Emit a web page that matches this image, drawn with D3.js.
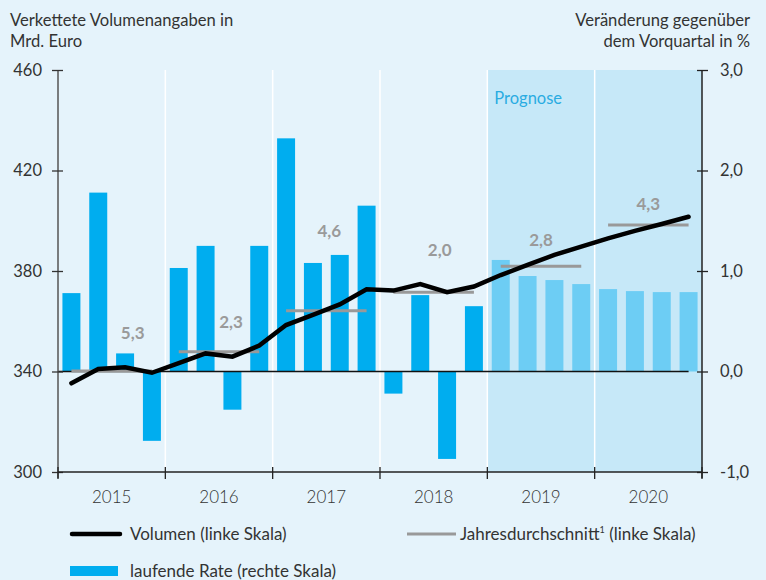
<!DOCTYPE html>
<html>
<head>
<meta charset="utf-8">
<script src="https://cdn.jsdelivr.net/npm/d3@7"></script>
<style>
    body { margin: 0; background: #e5f3fb; }
    text { font-family: Lato, "Open Sans", sans-serif; }
</style>
</head>
<body>
<div id="chart"></div>
<script>
// Chart data
const years = ["2015", "2016", "2017", "2018", "2019", "2020"];
const forecastYears = ["2019", "2020"];
const quarters = years.flatMap(y => ["Q1", "Q2", "Q3", "Q4"].map(q => y + q));

// laufende Rate, % gegenüber Vorquartal (right scale)
const rate = [
    0.78, 1.78, 0.18, -0.69,
    1.03, 1.25, -0.38, 1.25,
    2.32, 1.08, 1.16, 1.65,
    -0.22, 0.76, -0.87, 0.65,
    1.11, 0.95, 0.91, 0.87,
    0.82, 0.80, 0.79, 0.79
];

// Volumen, Mrd. Euro (left scale)
const volume = [
    335.3, 341.0, 341.7, 339.5,
    343.3, 347.2, 345.9, 350.3,
    358.5, 362.5, 366.7, 372.7,
    372.2, 374.8, 371.6, 373.8,
    378.4, 382.4, 386.4, 389.7,
    393.0, 396.0, 398.7, 401.6
];

// Jahresdurchschnitt (left scale) and its growth label
const annualAvg = [340.2, 347.9, 364.2, 371.5, 381.9, 398.3];
const annualGrowth = ["5,3", "2,3", "4,6", "2,0", "2,8", "4,3"];

const leftTicks = [300, 340, 380, 420, 460];
const rightTicks = [-1, 0, 1, 2, 3];

(function () {
    const width = 766, height = 580;
    const plot = { left: 58, right: 702, top: 70, bottom: 472 };

    const svg = d3.select("#chart").append("svg")
        .attr("width", width)
        .attr("height", height);

    svg.append("rect").attr("width", width).attr("height", height).attr("fill", "#e5f3fb");

    // Scales
    const xYear = d3.scaleBand().domain(years).range([plot.left, plot.right]);
    const xQ = d3.scaleBand().domain(quarters).range([plot.left, plot.right])
        .paddingInner(0.33).paddingOuter(0.165);
    const yL = d3.scaleLinear().domain([300, 460]).range([plot.bottom, plot.top]);
    const yR = d3.scaleLinear().domain([-1, 3]).range([plot.bottom, plot.top]);
    const cx = i => xQ(quarters[i]) + xQ.bandwidth() / 2;

    // Forecast shading
    const fx0 = xYear(forecastYears[0]);
    svg.append("rect")
        .attr("x", fx0).attr("y", plot.top)
        .attr("width", plot.right - fx0).attr("height", plot.bottom - plot.top)
        .attr("fill", "#c6e8f8");
    svg.append("text")
        .attr("x", fx0 + 7).attr("y", plot.top + 34)
        .attr("fill", "#2aace2").attr("font-size", 16.5)
        .text("Prognose");

    // Year separators
    svg.selectAll(".sep")
        .data(years.slice(1))
        .enter().append("line")
        .attr("x1", d => xYear(d)).attr("x2", d => xYear(d))
        .attr("y1", plot.top).attr("y2", plot.bottom)
        .attr("stroke", "#fff").attr("stroke-width", 1.5);

    // Bars
    svg.selectAll(".bar")
        .data(rate)
        .enter().append("rect")
        .attr("x", (d, i) => xQ(quarters[i]))
        .attr("y", d => yR(Math.max(0, d)))
        .attr("width", xQ.bandwidth())
        .attr("height", d => Math.abs(yR(d) - yR(0)))
        .attr("fill", (d, i) => forecastYears.includes(quarters[i].slice(0, 4)) ? "#6dcdf4" : "#00adef");

    // Zero line
    svg.append("line")
        .attr("x1", plot.left).attr("x2", cx(23))
        .attr("y1", yR(0)).attr("y2", yR(0))
        .attr("stroke", "#111").attr("stroke-width", 1.3);

    // Annual averages
    svg.selectAll(".avg")
        .data(annualAvg)
        .enter().append("line")
        .attr("x1", (d, i) => cx(i * 4)).attr("x2", (d, i) => cx(i * 4 + 3))
        .attr("y1", d => yL(d)).attr("y2", d => yL(d))
        .attr("stroke", "#999").attr("stroke-width", 3);

    // Growth labels (hand placed relative to year centre / avg line)
    const labelShift = [[21, -38], [12, -30], [3, -80], [6, -42], [0, -26], [0, -21]];
    svg.selectAll(".growth")
        .data(annualGrowth)
        .enter().append("text")
        .attr("x", (d, i) => xYear(years[i]) + xYear.bandwidth() / 2 + labelShift[i][0])
        .attr("y", (d, i) => yL(annualAvg[i]) + labelShift[i][1])
        .attr("dy", "0.35em")
        .attr("text-anchor", "middle")
        .attr("font-size", 17).attr("font-weight", "bold")
        .attr("fill", "#9a9a9a")
        .text(d => d);

    // Volume line
    const line = d3.line().x((d, i) => cx(i)).y(d => yL(d));
    svg.append("path")
        .datum(volume)
        .attr("d", line)
        .attr("fill", "none")
        .attr("stroke", "#000").attr("stroke-width", 4.5)
        .attr("stroke-linejoin", "miter").attr("stroke-linecap", "round");

    // Left axis
    const gL = svg.append("g")
        .attr("transform", `translate(${plot.left},0)`)
        .call(d3.axisLeft(yL).tickValues(leftTicks).tickSize(6).tickSizeOuter(0).tickPadding(10));
    gL.select(".domain").attr("stroke", "#555").attr("stroke-width", 1.5)
        .attr("d", `M0,${plot.top}V${plot.bottom + 6}`);
    gL.selectAll(".tick line").attr("x1", 5).attr("stroke", "#333").attr("stroke-width", 1.3);
    gL.selectAll(".tick text").attr("font-size", 16.5).attr("fill", "#333")
        .attr("font-family", "Lato, sans-serif");

    // Right axis
    const gR = svg.append("g")
        .attr("transform", `translate(${plot.right},0)`)
        .call(d3.axisRight(yR).tickValues(rightTicks).tickSize(6).tickSizeOuter(0).tickPadding(12)
            .tickFormat(d => d.toFixed(1).replace(".", ",")));
    gR.select(".domain").attr("stroke", "#222").attr("stroke-width", 1.5)
        .attr("d", `M0,${plot.top}V${plot.bottom + 6}`);
    gR.selectAll(".tick line").attr("x1", -5).attr("stroke", "#222").attr("stroke-width", 1.3);
    gR.selectAll(".tick text").attr("font-size", 16.5).attr("fill", "#333")
        .attr("font-family", "Lato, sans-serif");

    // Bottom axis
    svg.append("line")
        .attr("x1", plot.left).attr("x2", plot.right)
        .attr("y1", plot.bottom).attr("y2", plot.bottom)
        .attr("stroke", "#222").attr("stroke-width", 1.5);
    const bounds = years.map(y => xYear(y)).concat([plot.right]);
    svg.selectAll(".xtick")
        .data(bounds)
        .enter().append("line")
        .attr("x1", d => d).attr("x2", d => d)
        .attr("y1", plot.bottom - 5).attr("y2", plot.bottom + 7)
        .attr("stroke", "#222").attr("stroke-width", 1.3);
    svg.selectAll(".year")
        .data(years)
        .enter().append("text")
        .attr("x", d => xYear(d) + xYear.bandwidth() / 2)
        .attr("y", plot.bottom + 31)
        .attr("text-anchor", "middle")
        .attr("font-size", 17).attr("font-weight", 300).attr("fill", "#333")
        .text(d => d);

    // Axis titles
    const titleL = svg.append("text").attr("font-size", 16.6).attr("fill", "#333");
    titleL.append("tspan").attr("x", 10).attr("y", 26).text("Verkettete Volumenangaben in");
    titleL.append("tspan").attr("x", 10).attr("y", 47).text("Mrd. Euro");
    const titleR = svg.append("text").attr("font-size", 16.6).attr("fill", "#333").attr("text-anchor", "end");
    titleR.append("tspan").attr("x", 750).attr("y", 26).text("Veränderung gegenüber");
    titleR.append("tspan").attr("x", 750).attr("y", 47).text("dem Vorquartal in %");

    // Legend
    const lg = svg.append("g").attr("font-size", 17).attr("fill", "#333");
    lg.append("line").attr("x1", 72).attr("x2", 120).attr("y1", 534).attr("y2", 534)
        .attr("stroke", "#000").attr("stroke-width", 4.5).attr("stroke-linecap", "round");
    lg.append("text").attr("x", 130).attr("y", 540).text("Volumen (linke Skala)");
    lg.append("line").attr("x1", 407).attr("x2", 456).attr("y1", 534).attr("y2", 534)
        .attr("stroke", "#999").attr("stroke-width", 3);
    const jt = lg.append("text").attr("x", 460).attr("y", 540);
    jt.append("tspan").text("Jahresdurchschnitt");
    jt.append("tspan").attr("font-size", 9).attr("dy", -7).text("1");
    jt.append("tspan").attr("dy", 7).text(" (linke Skala)");
    lg.append("rect").attr("x", 70).attr("y", 566).attr("width", 48).attr("height", 10).attr("fill", "#00adef");
    lg.append("text").attr("x", 130).attr("y", 577).text("laufende Rate (rechte Skala)");
})();
</script>
</body>
</html>
